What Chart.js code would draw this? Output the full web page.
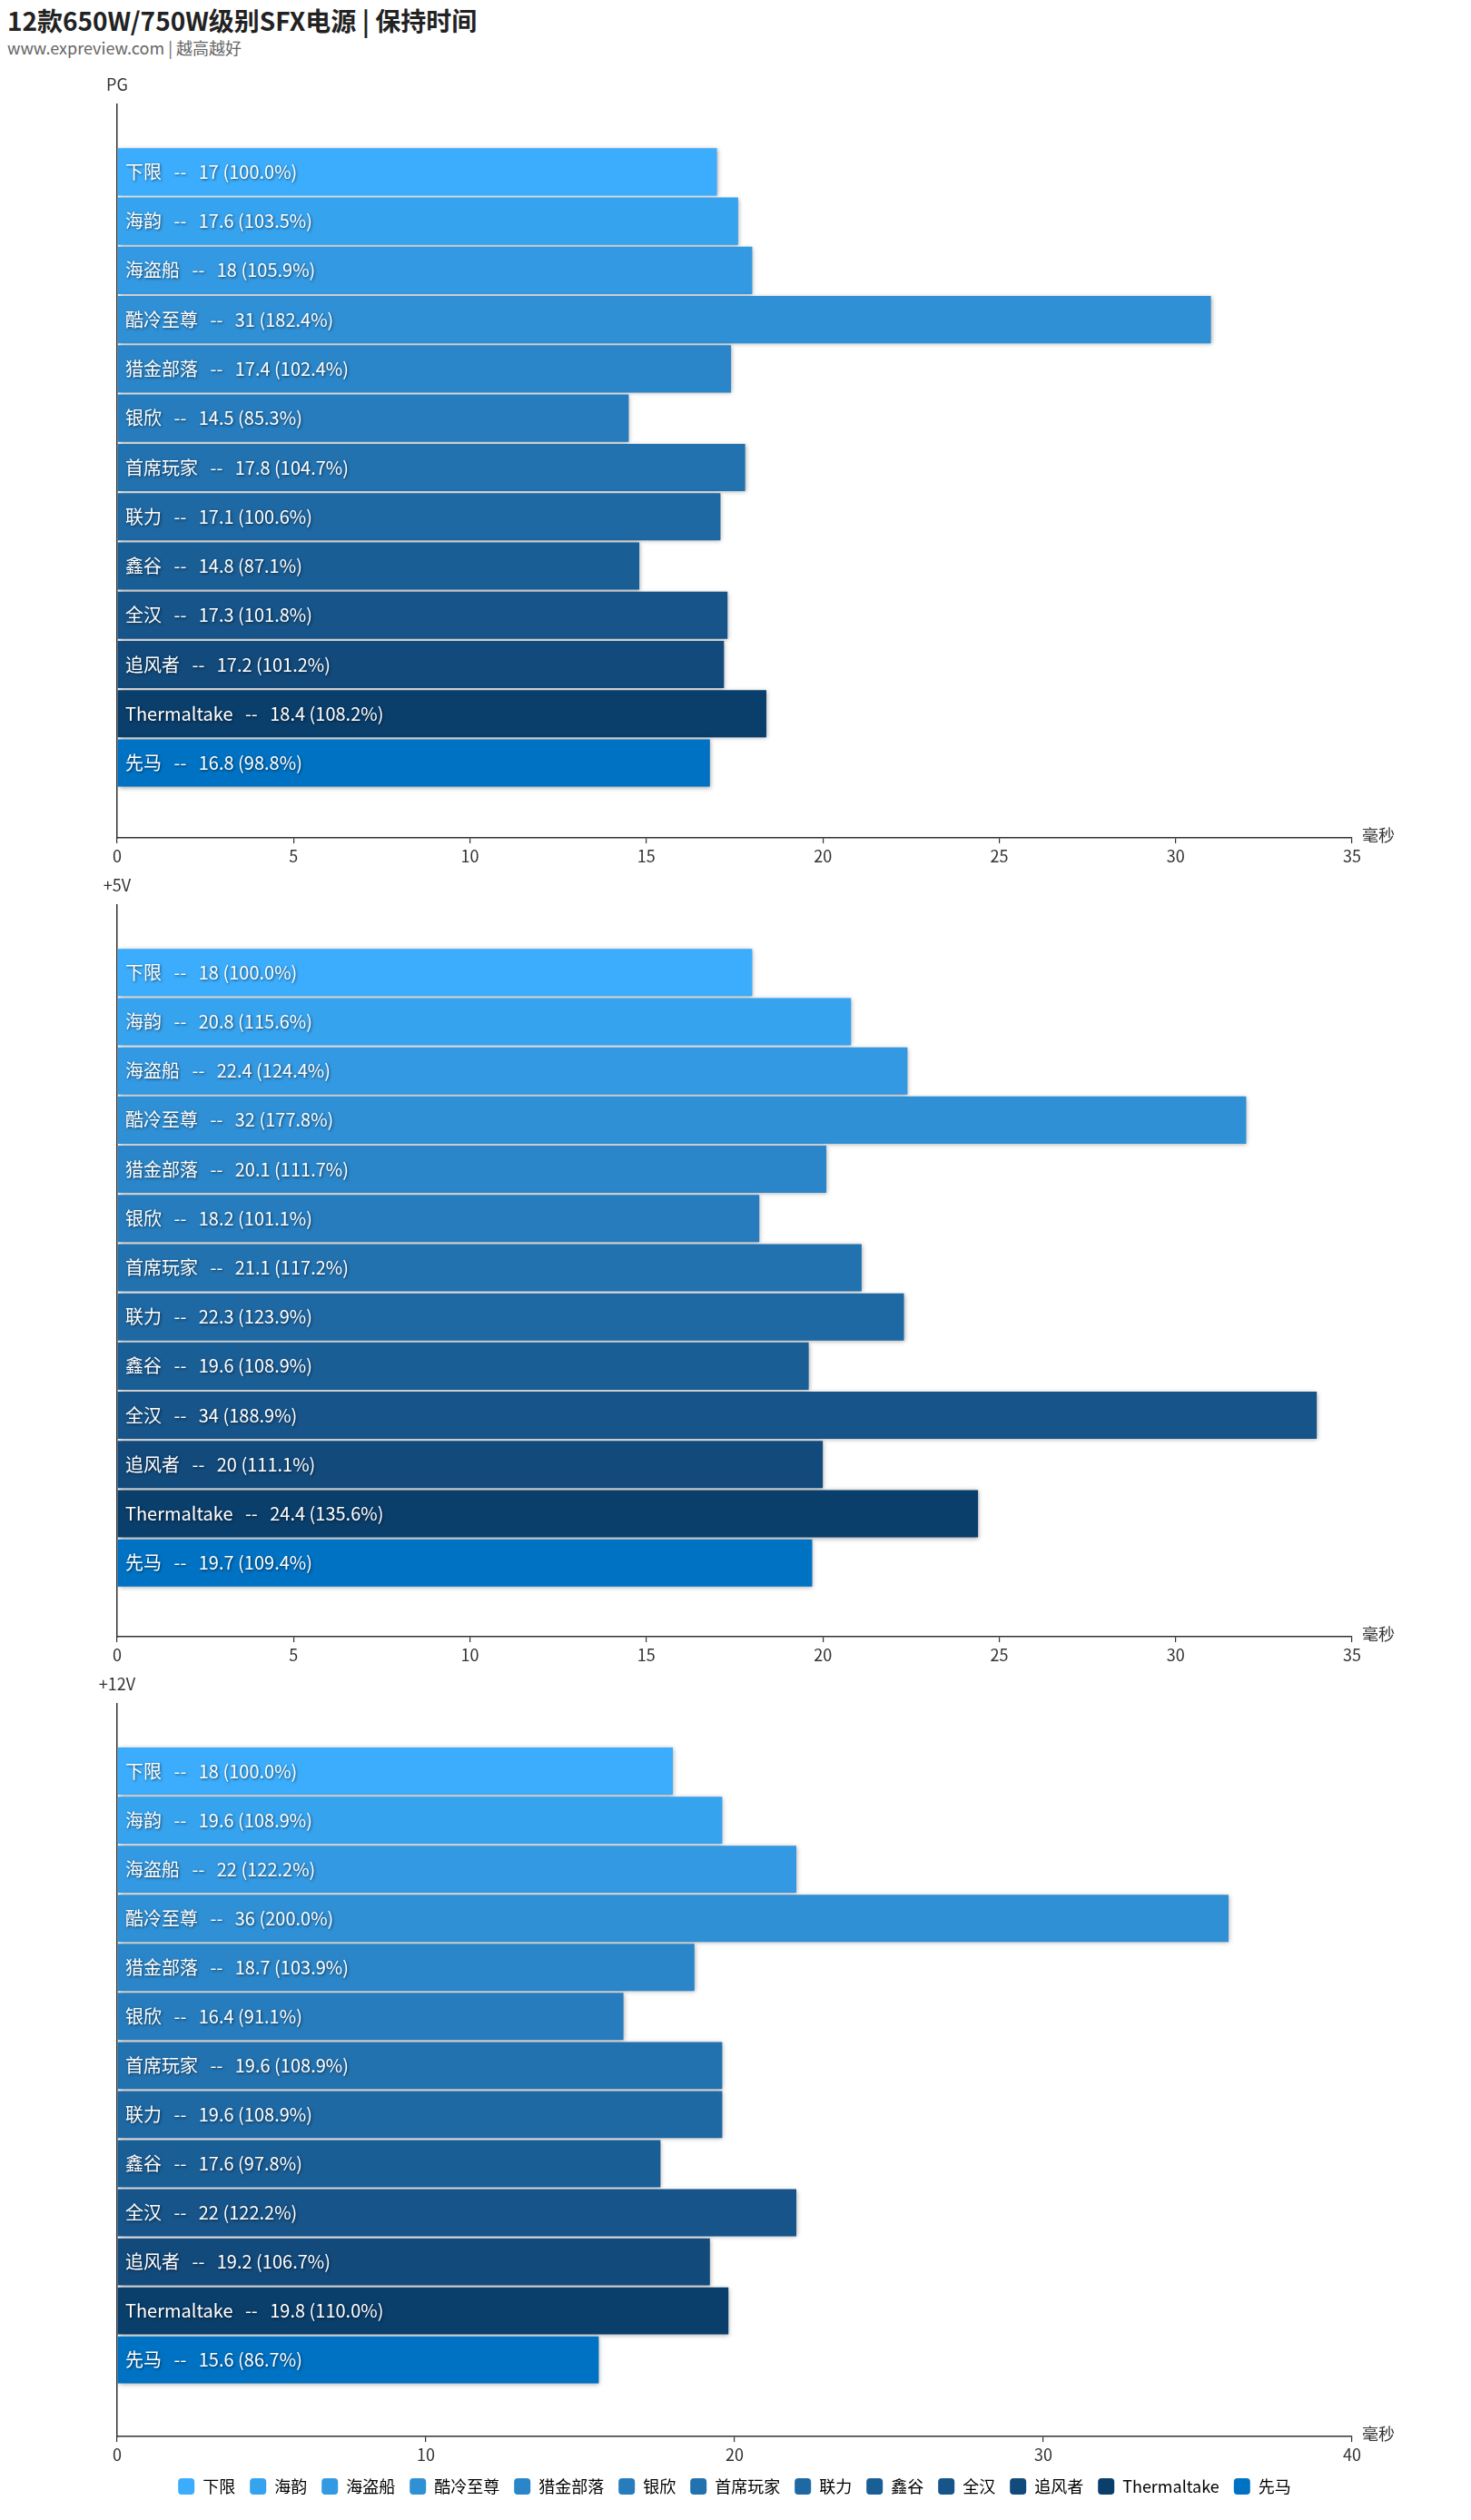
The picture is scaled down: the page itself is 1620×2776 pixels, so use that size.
<!DOCTYPE html>
<html lang="zh">
<head>
    <meta charset="UTF-8"/>
    <script src="https://cdn.jsdelivr.net/npm/chart.js"></script>
    <style>
        body { margin: 0; background: #fff; width: 1620px; height: 2776px; position: relative; overflow: hidden; }
        #title { position: absolute; left: 8px; top: 2px; font: bold 28px "Noto Sans CJK SC", "Noto Sans", sans-serif; color: #222; white-space: nowrap; }
        #subtitle { position: absolute; left: 8px; top: 39px; font: 18px "Noto Sans CJK SC", "Noto Sans", sans-serif; color: #666; white-space: nowrap; }
        canvas { position: absolute; left: 0; }
    </style>
</head>
<body>
<div id="title">12款650W/750W级别SFX电源 | 保持时间</div>
<div id="subtitle">www.expreview.com | 越高越好</div>
<canvas id="pgChart" width="1620" height="878" style="top:75px"></canvas>
<canvas id="v5Chart" width="1620" height="876" style="top:957px"></canvas>
<canvas id="v12Chart" width="1620" height="921" style="top:1837px"></canvas>
<script type="application/javascript">
    const names = ['下限', '海韵', '海盗船', '酷冷至尊', '猎金部落', '银欣', '首席玩家', '联力', '鑫谷', '全汉', '追风者', 'Thermaltake', '先马'];
    const pgValues = [17, 17.6, 18, 31, 17.4, 14.5, 17.8, 17.1, 14.8, 17.3, 17.2, 18.4, 16.8];
    const v5Values = [18, 20.8, 22.4, 32, 20.1, 18.2, 21.1, 22.3, 19.6, 34, 20, 24.4, 19.7];
    const v12Values = [18, 19.6, 22, 36, 18.7, 16.4, 19.6, 19.6, 17.6, 22, 19.2, 19.8, 15.6];
    const pgTicks = [0, 5, 10, 15, 20, 25, 30, 35];
    const v5Ticks = [0, 5, 10, 15, 20, 25, 30, 35];
    const v12Ticks = [0, 10, 20, 30, 40];
    const colours = [
        '#3badfc', '#36a3ef', '#3399e2', '#2f90d6', '#2a86c9', '#267cbd', '#2272b0',
        '#1e68a3', '#1a5e96', '#165489', '#124a7c', '#0a3e6b', '#0072c3'
    ];

    const fontFamily = '"Noto Sans CJK SC", "Noto Sans", sans-serif';
    Chart.defaults.font.family = fontFamily;
    Chart.defaults.color = '#333';

    // bar shadows, in-bar labels and the two axis names
    const barLabels = {
        id: 'barLabels',
        beforeDatasetsDraw(chart) {
            const ctx = chart.ctx;
            ctx.save();
            ctx.shadowColor = 'rgba(0,0,0,0.35)';
            ctx.shadowBlur = 5;
            ctx.shadowOffsetX = 1;
            ctx.shadowOffsetY = 1;
        },
        afterDatasetsDraw(chart) {
            const ctx = chart.ctx;
            ctx.restore();
            const meta = chart.getDatasetMeta(0);
            const data = chart.data.datasets[0].data;
            const base = data[0].x;
            ctx.save();
            ctx.font = '20px ' + fontFamily;
            ctx.fillStyle = '#fff';
            ctx.textBaseline = 'middle';
            ctx.shadowColor = 'rgba(0,0,0,0.6)';
            ctx.shadowBlur = 3;
            ctx.shadowOffsetX = 1;
            ctx.shadowOffsetY = 1;
            meta.data.forEach((bar, i) => {
                const v = data[i].x;
                const text = `${names[i]}   --   ${v} (${(v / base * 100).toFixed(1)}%)`;
                ctx.fillText(text, chart.chartArea.left + 9, bar.y);
            });
            ctx.restore();
        },
        afterDraw(chart, args, opts) {
            const ctx = chart.ctx;
            const area = chart.chartArea;
            ctx.save();
            ctx.font = '18px ' + fontFamily;
            ctx.fillStyle = '#333';
            ctx.textBaseline = 'middle';
            ctx.textAlign = 'center';
            ctx.fillText(opts.yName, area.left, area.top - 22);
            ctx.textAlign = 'left';
            ctx.fillText('毫秒', area.right + 11, area.bottom - 3);
            ctx.restore();
        }
    };

    function makeChart(id, yName, values, ticks, yMax, withLegend) {
        const ctx = document.getElementById(id);
        return new Chart(ctx, {
            type: 'bar',
            data: {
                labels: names,
                datasets: [{
                    label: yName,
                    data: values.map((v, i) => ({x: v, y: i})),
                    backgroundColor: colours,
                    borderWidth: 0,
                    barPercentage: 0.96,
                    categoryPercentage: 1
                }]
            },
            options: {
                indexAxis: 'y',
                responsive: false,
                animation: false,
                layout: {padding: {left: 129, right: 131, top: 40, bottom: 0}},
                scales: {
                    x: {
                        type: 'linear',
                        min: ticks[0],
                        max: ticks[ticks.length - 1],
                        afterBuildTicks: scale => { scale.ticks = ticks.map(value => ({value})); },
                        afterFit: scale => { scale.height = 30; },
                        grid: {drawOnChartArea: false, drawTicks: true, tickLength: 6, color: '#333', lineWidth: 1.2},
                        border: {color: '#333', width: 1.5},
                        ticks: {font: {size: 18}, color: '#333', padding: 3}
                    },
                    y: {
                        type: 'linear',
                        offset: false,
                        reverse: true,
                        min: -1.37,
                        max: yMax,
                        afterFit: scale => { scale.width = 0; },
                        grid: {display: false, offset: false},
                        border: {color: '#333', width: 1.5},
                        ticks: {display: false}
                    }
                },
                plugins: {
                    tooltip: {enabled: false},
                    barLabels: {yName},
                    legend: {
                        display: withLegend,
                        position: 'bottom',
                        labels: {
                            boxWidth: 18,
                            boxHeight: 18,
                            padding: 16,
                            font: {size: 18},
                            color: '#333',
                            generateLabels: () => names.map((n, i) => ({
                                text: n,
                                fillStyle: colours[i],
                                strokeStyle: colours[i],
                                lineWidth: 0,
                                borderRadius: 4,
                                hidden: false,
                                index: i
                            }))
                        }
                    }
                }
            },
            plugins: [barLabels]
        });
    }

    makeChart('pgChart', 'PG', pgValues, pgTicks, 13.52, false);
    makeChart('v5Chart', '+5V', v5Values, v5Ticks, 13.5, false);
    makeChart('v12Chart', '+12V', v12Values, v12Ticks, 13.56, true);
</script>
</body>
</html>
